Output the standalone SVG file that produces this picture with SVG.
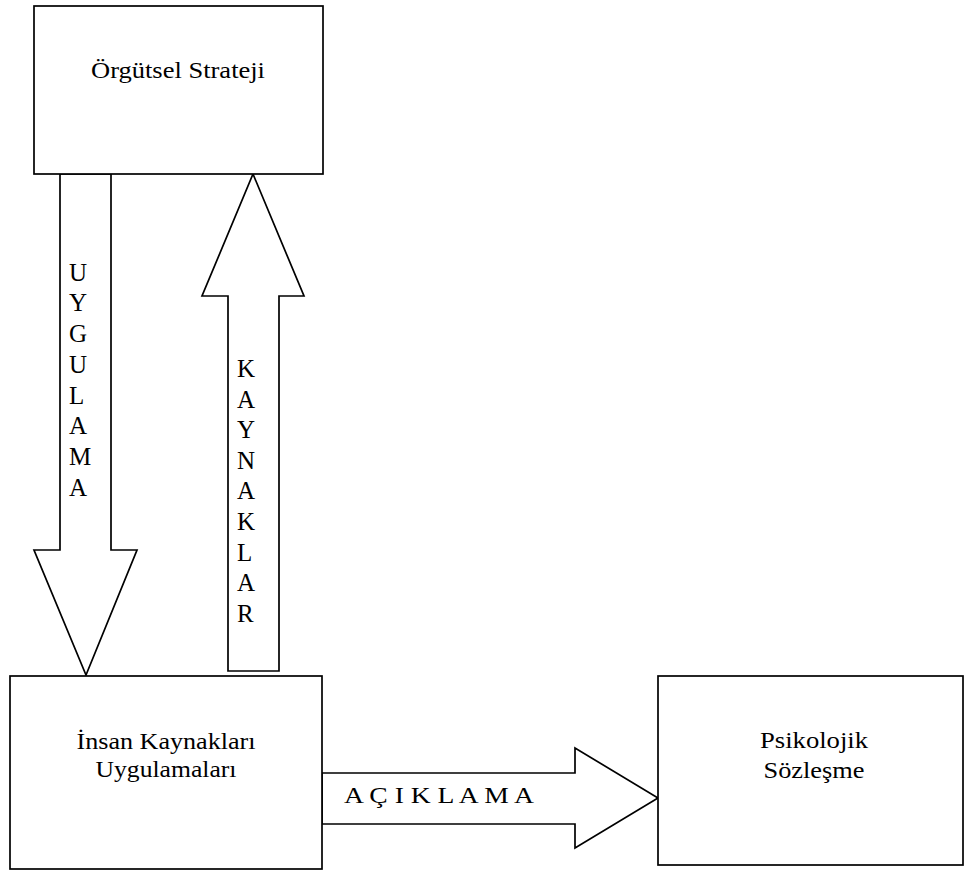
<svg xmlns="http://www.w3.org/2000/svg" width="964" height="871" viewBox="0 0 964 871">
  <style>
    .box { fill: #fff; stroke: #000; stroke-width: 1.7; }
    .arrow { fill: #fff; stroke: #000; stroke-width: 1.7; stroke-linejoin: miter; }
    .lbl { font-family: "Liberation Serif", "Times New Roman", serif; font-size: 24px; fill: #000; }
    .vert { font-size: 25px; }
    .mid { text-anchor: middle; }
  </style>
  <rect width="964" height="871" fill="#fff"/>

  <!-- block arrows between the boxes -->
  <g id="connectors">
    <g id="uygulama">
      <polygon class="arrow" points="60,174 111,174 111,550 137,550 86,675 34,550 60,550"/>
      <text class="lbl vert" x="69">
        <tspan x="69" y="281">U</tspan>
        <tspan x="69" y="311">Y</tspan>
        <tspan x="69" y="342">G</tspan>
        <tspan x="69" y="373">U</tspan>
        <tspan x="69" y="404">L</tspan>
        <tspan x="69" y="434">A</tspan>
        <tspan x="69" y="465">M</tspan>
        <tspan x="69" y="496">A</tspan>
      </text>
    </g>
    <g id="kaynaklar">
      <polygon class="arrow" points="253,174 304,296 279,296 279,671 228,671 228,296 202,296"/>
      <text class="lbl vert" x="237">
        <tspan x="237" y="377">K</tspan>
        <tspan x="237" y="408">A</tspan>
        <tspan x="237" y="438">Y</tspan>
        <tspan x="237" y="469">N</tspan>
        <tspan x="237" y="499">A</tspan>
        <tspan x="237" y="530">K</tspan>
        <tspan x="237" y="561">L</tspan>
        <tspan x="237" y="591">A</tspan>
        <tspan x="237" y="622">R</tspan>
      </text>
    </g>
    <g id="aciklama">
      <polygon class="arrow" points="322,773 575,773 575,748 658,798 575,848 575,824 322,824"/>
      <text class="lbl" x="344" y="803" textLength="190" lengthAdjust="spacingAndGlyphs">A Ç I K L A M A</text>
    </g>
  </g>

  <g id="orgutsel-strateji">
    <rect class="box" x="34" y="6" width="289" height="168"/>
    <text class="lbl mid" x="178" y="78" textLength="174" lengthAdjust="spacingAndGlyphs">Örgütsel Strateji</text>
  </g>

  <g id="insan-kaynaklari">
    <rect class="box" x="10" y="676" width="312" height="193"/>
    <text class="lbl mid" x="166" y="749" textLength="179" lengthAdjust="spacingAndGlyphs">İnsan Kaynakları</text>
    <text class="lbl mid" x="166" y="777" textLength="141" lengthAdjust="spacingAndGlyphs">Uygulamaları</text>
  </g>

  <g id="psikolojik-sozlesme">
    <rect class="box" x="658" y="676" width="305" height="189"/>
    <text class="lbl mid" x="814" y="748" textLength="108" lengthAdjust="spacingAndGlyphs">Psikolojik</text>
    <text class="lbl mid" x="814" y="778" textLength="101" lengthAdjust="spacingAndGlyphs">Sözleşme</text>
  </g>
</svg>
